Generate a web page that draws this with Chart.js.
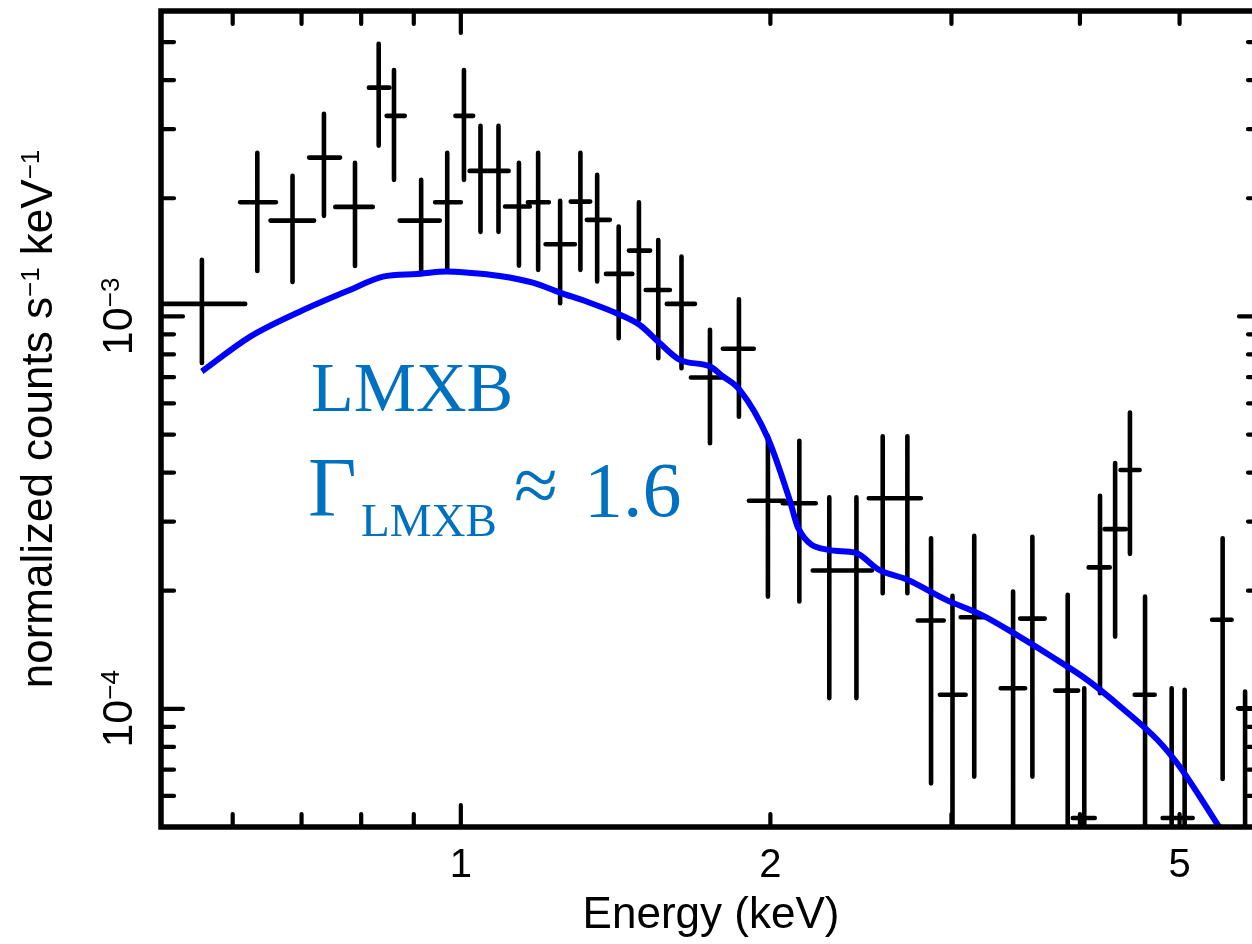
<!DOCTYPE html>
<html>
<head>
<meta charset="utf-8">
<title>LMXB spectrum</title>
<script src="https://cdn.jsdelivr.net/npm/chart.js@4.4.0/dist/chart.umd.min.js"></script>
<style>
  html, body { margin: 0; padding: 0; background: #fff; overflow: hidden; }
  #wrap { width: 1266px; height: 944px; }
</style>
</head>
<body>
<div id="wrap"><canvas id="spectrum" width="1266" height="944"></canvas></div>
<script>
// binned spectrum (keV, normalized counts s^-1 keV^-1)
const energy   = [0.560, 0.634, 0.686, 0.736, 0.789, 0.832, 0.861, 0.915, 0.970, 1.007, 1.045, 1.088, 1.139, 1.189, 1.249, 1.307, 1.357, 1.424, 1.490, 1.556, 1.639, 1.747, 1.864, 1.989, 2.134, 2.282, 2.425, 2.572, 2.718, 2.866, 3.007, 3.157, 3.444, 3.596, 3.892, 4.039, 4.184, 4.328, 4.474, 4.628, 4.912, 5.057, 5.506, 5.790];
const energyLo = [0.500, 0.610, 0.653, 0.712, 0.755, 0.814, 0.847, 0.872, 0.944, 0.988, 1.020, 1.067, 1.104, 1.162, 1.209, 1.279, 1.326, 1.384, 1.457, 1.513, 1.586, 1.674, 1.798, 1.906, 2.056, 2.199, 2.360, 2.493, 2.636, 2.782, 2.923, 3.063, 3.350, 3.499, 3.784, 3.936, 4.079, 4.228, 4.381, 4.522, 4.814, 4.979, 5.378, 5.700];
const energyHi = [0.617, 0.661, 0.720, 0.763, 0.821, 0.852, 0.882, 0.954, 1.000, 1.028, 1.067, 1.113, 1.167, 1.218, 1.291, 1.336, 1.396, 1.468, 1.528, 1.597, 1.689, 1.794, 1.927, 2.065, 2.214, 2.360, 2.510, 2.636, 2.801, 2.949, 3.097, 3.246, 3.538, 3.697, 3.984, 4.135, 4.276, 4.431, 4.572, 4.729, 4.979, 5.149, 5.618, 5.880];
const rate     = [1.076e-3, 1.954e-3, 1.754e-3, 2.539e-3, 1.901e-3, 3.827e-3, 3.243e-3, 1.754e-3, 1.954e-3, 3.243e-3, 2.348e-3, 2.348e-3, 1.905e-3, 1.954e-3, 1.527e-3, 1.961e-3, 1.762e-3, 1.283e-3, 1.471e-3, 1.168e-3, 1.076e-3, 6.99e-4, 8.27e-4, 3.39e-4, 3.34e-4, 2.251e-4, 2.251e-4, 3.44e-4, 3.44e-4, 1.679e-4, 1.086e-4, 1.711e-4, 1.129e-4, 1.698e-4, 1.113e-4, 5.27e-5, 2.293e-4, 2.870e-4, 4.06e-4, 1.086e-4, 5.27e-5, 5.27e-5, 1.686e-4, 1.004e-4];
const rateLo   = [7.61e-4, 1.306e-3, 1.224e-3, 1.804e-3, 1.345e-3, 2.724e-3, 2.228e-3, 1.291e-3, 1.299e-3, 2.228e-3, 1.642e-3, 1.642e-3, 1.347e-3, 1.314e-3, 1.080e-3, 1.314e-3, 1.227e-3, 8.80e-4, 9.80e-4, 7.82e-4, 7.38e-4, 4.75e-4, 5.55e-4, 1.932e-4, 1.877e-4, 1.065e-4, 1.065e-4, 1.971e-4, 1.971e-4, 6.46e-5, 4e-5, 6.72e-5, 4e-5, 6.72e-5, 4e-5, 4e-5, 1.096e-4, 1.528e-4, 2.483e-4, 4e-5, 4e-5, 4e-5, 6.63e-5, 4e-5];
const rateHi   = [1.393e-3, 2.610e-3, 2.280e-3, 3.281e-3, 2.461e-3, 4.948e-3, 4.246e-3, 2.228e-3, 2.610e-3, 4.246e-3, 3.058e-3, 3.058e-3, 2.461e-3, 2.610e-3, 1.969e-3, 2.610e-3, 2.294e-3, 1.694e-3, 1.954e-3, 1.566e-3, 1.420e-3, 9.24e-4, 1.105e-3, 4.95e-4, 4.82e-4, 3.46e-4, 3.46e-4, 4.95e-4, 4.95e-4, 2.722e-4, 1.940e-4, 2.759e-4, 1.990e-4, 2.743e-4, 1.952e-4, 1.129e-4, 3.49e-4, 4.23e-4, 5.69e-4, 1.932e-4, 1.129e-4, 1.118e-4, 2.722e-4, 1.107e-4];

// folded LMXB model
const modelEnergy = [0.560, 0.624, 0.697, 0.780, 0.840, 0.906, 0.969, 1.013, 1.091, 1.175, 1.248, 1.325, 1.417, 1.493, 1.561, 1.633, 1.747, 1.799, 1.867, 1.989, 2.088, 2.129, 2.277, 2.416, 2.552, 2.718, 2.965, 3.209, 3.471, 3.754, 4.064, 4.397, 4.757, 5.000, 5.230, 5.470];
const modelRate   = [7.24e-4, 8.88e-4, 1.028e-3, 1.168e-3, 1.263e-3, 1.283e-3, 1.301e-3, 1.293e-3, 1.268e-3, 1.219e-3, 1.150e-3, 1.091e-3, 1.019e-3, 9.51e-4, 8.55e-4, 7.75e-4, 7.45e-4, 7.03e-4, 6.50e-4, 4.89e-4, 3.41e-4, 2.886e-4, 2.542e-4, 2.502e-4, 2.259e-4, 2.132e-4, 1.895e-4, 1.736e-4, 1.543e-4, 1.359e-4, 1.186e-4, 1.004e-4, 8.34e-5, 7.13e-5, 5.98e-5, 4.97e-5];

// axes
const xTickLabels = [1, 2, 5];
const xMajorTicks = [1];
const xMinorTicks = [0.6, 0.7, 0.8, 0.9, 2, 3, 4, 5];
const yTickExps   = [-4, -3];
const yMinorTicks = [6e-5, 7e-5, 8e-5, 9e-5, 2e-4, 3e-4, 4e-4, 5e-4, 6e-4, 7e-4, 8e-4, 9e-4, 2e-3, 3e-3, 4e-3, 5e-3];

const SANS = '"Liberation Sans", Arial, sans-serif';
const SERIF = '"Liberation Serif", "Times New Roman", serif';
const BLUE_TEXT = '#0070c0';

// draws runs of [text, fontSize, baselineShift] centred on 0 in the current transform
function drawRuns(ctx, runs) {
  let total = 0;
  runs.forEach(r => { ctx.font = r[1] + 'px ' + SANS; total += ctx.measureText(r[0]).width; });
  let pos = -total / 2;
  runs.forEach(r => {
    ctx.font = r[1] + 'px ' + SANS;
    ctx.fillText(r[0], pos, r[2]);
    pos += ctx.measureText(r[0]).width;
  });
}

const framePlugin = {
  id: 'framePlugin',
  beforeDatasetsDraw(chart) {
    const { ctx, chartArea: a, scales: { x, y } } = chart;
    ctx.save();
    ctx.beginPath();
    ctx.rect(a.left, a.top, a.right - a.left, a.bottom - a.top);
    ctx.clip();
    ctx.strokeStyle = '#000';
    ctx.lineWidth = 4.6;
    ctx.lineCap = 'round';
    ctx.beginPath();
    energy.forEach((e, i) => {
      const px = x.getPixelForValue(e);
      const py = y.getPixelForValue(rate[i]);
      ctx.moveTo(x.getPixelForValue(energyLo[i]), py);
      ctx.lineTo(x.getPixelForValue(energyHi[i]), py);
      ctx.moveTo(px, y.getPixelForValue(rateLo[i]));
      ctx.lineTo(px, y.getPixelForValue(rateHi[i]));
    });
    ctx.stroke();
    ctx.restore();
  },
  afterDraw(chart) {
    const { ctx, chartArea: a, scales: { x, y } } = chart;
    ctx.save();
    ctx.strokeStyle = '#000';
    ctx.fillStyle = '#000';

    // inward ticks on all four sides
    ctx.lineWidth = 4.2;
    ctx.lineCap = 'round';
    ctx.beginPath();
    const xt = (v, len) => {
      const px = x.getPixelForValue(v);
      ctx.moveTo(px, a.top); ctx.lineTo(px, a.top + len);
      ctx.moveTo(px, a.bottom); ctx.lineTo(px, a.bottom - len);
    };
    const yt = (v, len) => {
      const py = y.getPixelForValue(v);
      ctx.moveTo(a.left, py); ctx.lineTo(a.left + len, py);
      ctx.moveTo(a.right, py); ctx.lineTo(a.right - len, py);
    };
    xMajorTicks.forEach(v => xt(v, 22));
    xMinorTicks.forEach(v => xt(v, 13));
    yTickExps.forEach(e => yt(Math.pow(10, e), 22));
    yMinorTicks.forEach(v => yt(v, 13));
    ctx.stroke();

    // frame
    ctx.lineWidth = 5.5;
    ctx.lineCap = 'butt';
    ctx.strokeRect(a.left, a.top, a.right - a.left, a.bottom - a.top);

    // x tick labels
    ctx.textAlign = 'center';
    ctx.textBaseline = 'alphabetic';
    ctx.font = '40px ' + SANS;
    xTickLabels.forEach(v => ctx.fillText(String(v), x.getPixelForValue(v), 877));

    // x title
    ctx.font = '44px ' + SANS;
    ctx.fillText('Energy (keV)', (a.left + a.right) / 2, 928);

    // y tick labels, rotated, with superscript exponent
    ctx.textAlign = 'left';
    yTickExps.forEach(e => {
      ctx.save();
      ctx.translate(131.5, y.getPixelForValue(Math.pow(10, e)));
      ctx.rotate(-Math.PI / 2);
      drawRuns(ctx, [['10', 43, 0], ['\u2212' + Math.abs(e), 26, -12.5]]);
      ctx.restore();
    });

    // y title
    ctx.save();
    ctx.translate(52, (a.top + a.bottom) / 2);
    ctx.rotate(-Math.PI / 2);
    drawRuns(ctx, [['normalized counts s', 44, 0], ['\u22121', 26, -13], [' keV', 44, 0], ['\u22121', 26, -13]]);
    ctx.restore();

    // annotation
    ctx.fillStyle = BLUE_TEXT;
    ctx.textAlign = 'left';
    ctx.font = '70px ' + SERIF;
    ctx.fillText('LMXB', 311, 411);
    ctx.font = '84px ' + SERIF;
    ctx.fillText('\u0393', 308, 516);
    ctx.font = '47px ' + SERIF;
    ctx.fillText('LMXB', 361, 536);
    ctx.font = '80px ' + SERIF;
    ctx.fillText('\u2248', 514, 512);
    ctx.font = '78px ' + SERIF;
    ctx.fillText('1.6', 584, 516);
    ctx.restore();
  }
};

new Chart(document.getElementById('spectrum'), {
  type: 'scatter',
  data: {
    datasets: [
      {
        label: 'data',
        data: energy.map((e, i) => ({ x: e, y: rate[i] })),
        pointRadius: 0,
        showLine: false
      },
      {
        type: 'line',
        label: 'LMXB model',
        data: modelEnergy.map((e, i) => ({ x: e, y: modelRate[i] })),
        borderColor: '#0000ff',
        borderWidth: 6,
        pointRadius: 0,
        cubicInterpolationMode: 'monotone',
        fill: false
      }
    ]
  },
  options: {
    responsive: false,
    animation: false,
    layout: { padding: { top: 11, right: 5, bottom: 0, left: 0 } },
    plugins: { legend: { display: false }, tooltip: { enabled: false } },
    scales: {
      x: {
        type: 'logarithmic',
        min: 0.511,
        max: 6.0,
        ticks: { display: false },
        grid: { display: false },
        border: { display: false },
        afterFit(s) { s.height = 117; }
      },
      y: {
        type: 'logarithmic',
        min: 5e-5,
        max: 6e-3,
        ticks: { display: false },
        grid: { display: false },
        border: { display: false },
        afterFit(s) { s.width = 161; }
      }
    }
  },
  plugins: [framePlugin]
});
</script>
</body>
</html>
